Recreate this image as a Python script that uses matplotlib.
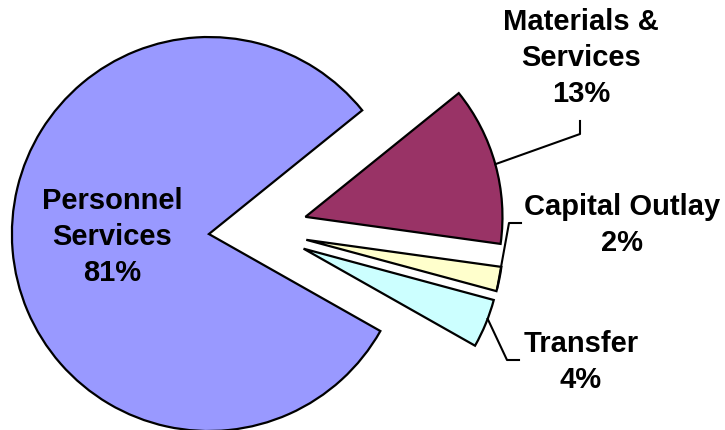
import numpy as np
import matplotlib
matplotlib.use("Agg")
from matplotlib import pyplot as plt

# budget split, percent
categories = ["Personnel\nServices", "Materials &\nServices", "Capital Outlay", "Transfer"]
shares = [81, 13, 2, 4]
colors = ["#9999FF", "#993366", "#FFFFCC", "#CCFFFF"]

plt.rcParams["font.family"] = ["Liberation Sans", "DejaVu Sans"]

W, H = 725, 431
fig = plt.figure(figsize=(W / 100., H / 100.), dpi=100)
ax = fig.add_axes([0, 0, 1, 1])

R = 197.
C = (258., 200.)
expl = 0.25 * R  # pie() takes explode in data units

wedges, _ = ax.pie(shares, colors=colors, radius=R, center=C, explode=[expl] * 4,
                   startangle=-29.5, counterclock=False,
                   wedgeprops=dict(edgecolor="black", linewidth=1.6))

ax.set_xlim(0, W)
ax.set_ylim(0, H)
ax.set_aspect("equal")
ax.axis("off")


def arc_point(w, frac=0.5):
    # point on the outer edge of the wedge, frac along its arc
    a = np.deg2rad(w.theta1 + frac * (w.theta2 - w.theta1))
    cx, cy = w.center
    return cx + w.r * np.cos(a), cy + w.r * np.sin(a)


fs = 21
txt = dict(fontsize=fs, fontweight="bold", ha="center", va="center", linespacing=1.35)

# label for the big slice sits inside it
ax.text(112, H - 237, "%s\n%d%%" % (categories[0], shares[0]), **txt)

# outside labels with leader lines
ax.text(581, H - 58, "%s\n%d%%" % (categories[1], shares[1]), **txt)
x0, y0 = arc_point(wedges[1])
ax.plot([x0, 580, 580], [y0, H - 135, H - 122], color="black", lw=1.5)

ax.text(622, H - 225, "%s\n%d%%" % (categories[2], shares[2]), **txt)
x0, y0 = arc_point(wedges[2], 0.1)
ax.plot([x0, 509, 521], [y0, H - 224, H - 224], color="black", lw=1.5)

ax.text(581, H - 362, "%s\n%d%%" % (categories[3], shares[3]), **txt)
x0, y0 = arc_point(wedges[3], 0.6)
ax.plot([x0, 507, 519], [y0, H - 361, H - 361], color="black", lw=1.5)

fig.savefig("out.png", dpi=100)
